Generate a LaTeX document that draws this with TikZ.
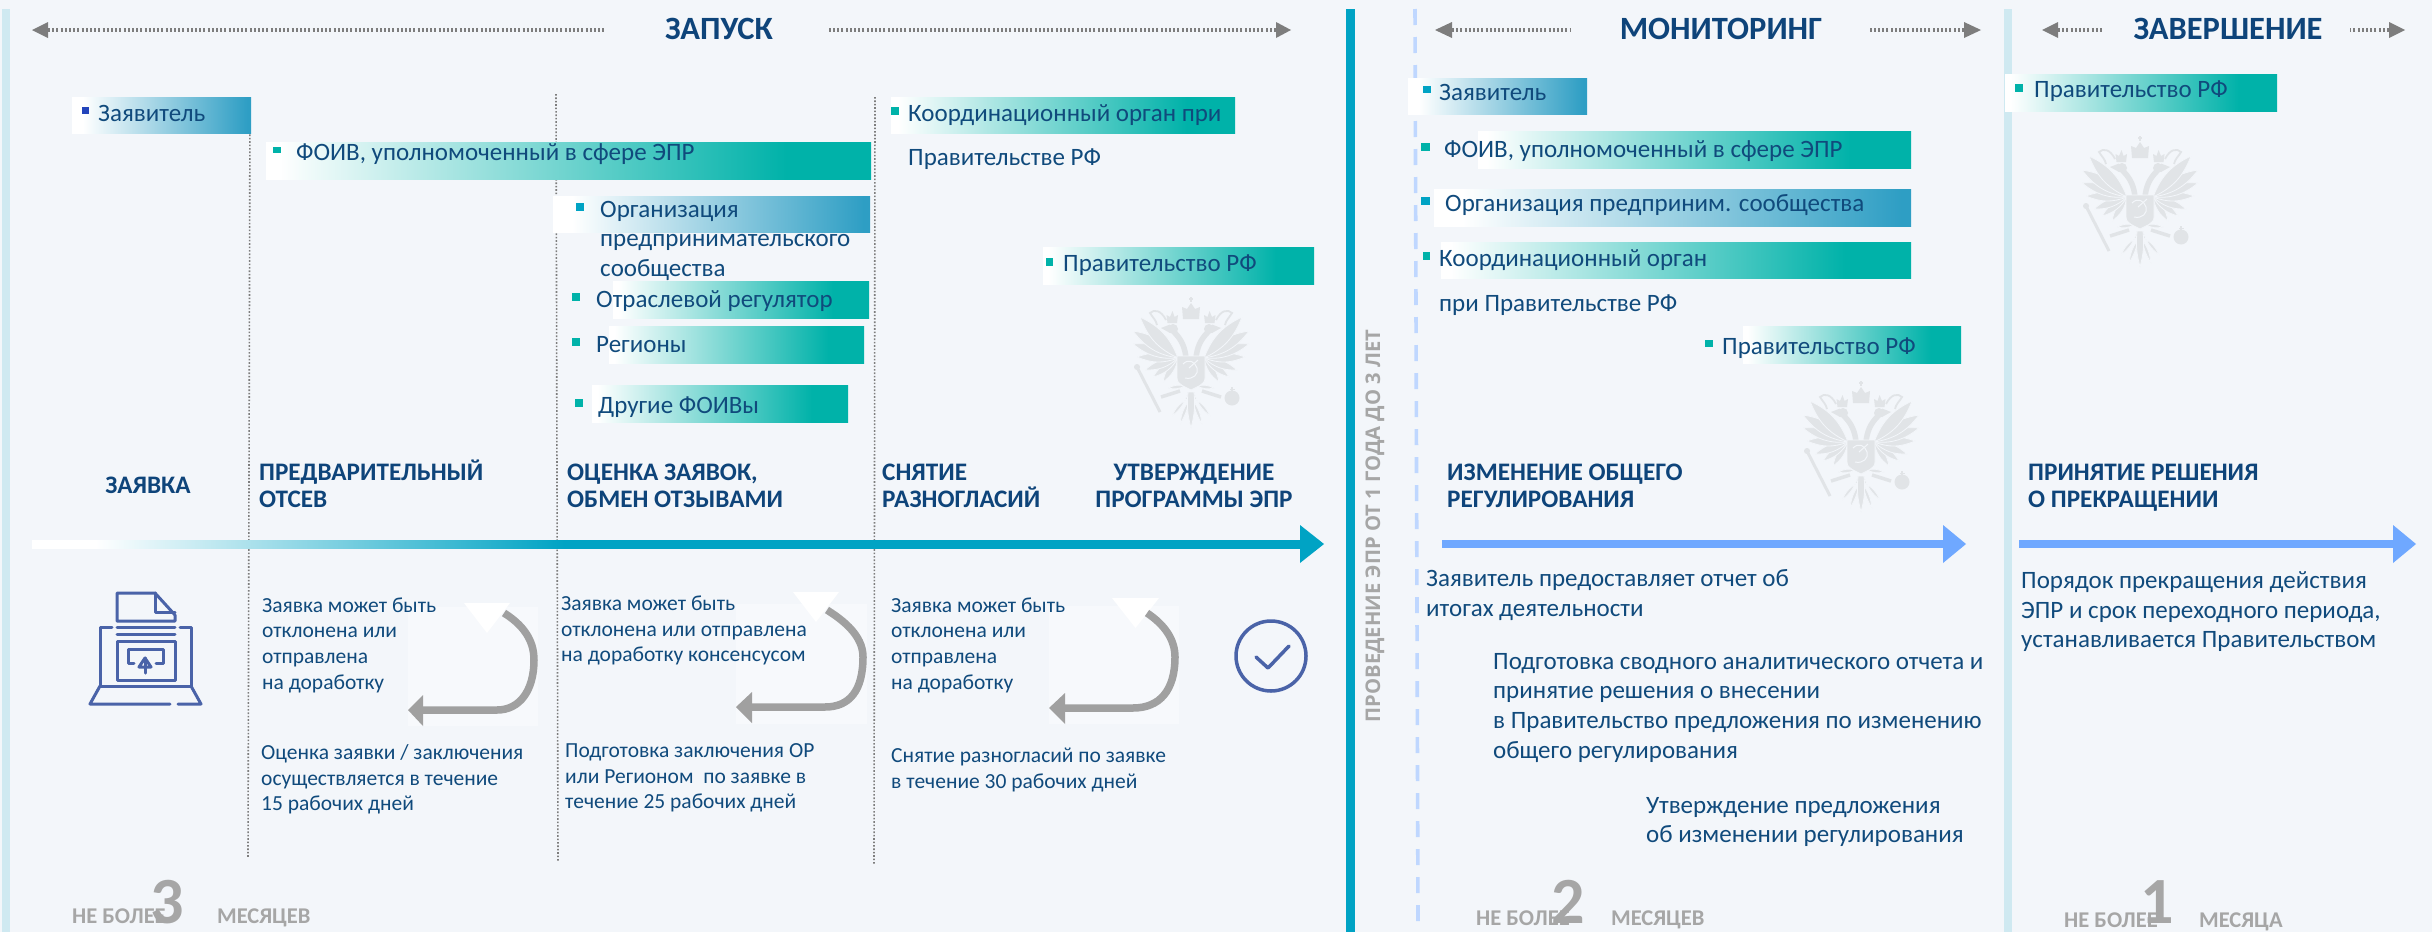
\documentclass[tikz,border=0pt]{standalone}
\usepackage{fontspec}
\setmainfont{Carlito}
\newfontfamily\widefont{Open Sans}
\usetikzlibrary{calc}
\definecolor{bgc}{RGB}{243,246,250}
\definecolor{lightbar}{RGB}{207,233,241}
\definecolor{midbar}{RGB}{0,163,196}
\definecolor{dashblue}{RGB}{191,215,255}
\definecolor{arrowblue}{RGB}{111,168,255}
\definecolor{tealc}{RGB}{0,178,169}
\definecolor{bluec}{RGB}{46,158,196}
\definecolor{bulletdark}{RGB}{34,68,187}
\definecolor{txtc}{RGB}{16,74,124}
\definecolor{hdc}{RGB}{14,68,122}
\definecolor{greytxt}{RGB}{166,166,166}
\definecolor{hdrgrey}{RGB}{125,125,125}
\definecolor{dotgrey}{RGB}{125,125,125}
\definecolor{loopgrey}{RGB}{160,160,160}
\definecolor{iconc}{RGB}{74,99,168}
\definecolor{eaglec}{RGB}{225,228,231}
\definecolor{pale}{RGB}{247,249,252}
\pgfdeclarehorizontalshading{tealfade}{100bp}{color(0bp)=(white); color(26bp)=(white); color(68bp)=(tealc); color(100bp)=(tealc)}
\pgfdeclarehorizontalshading{bluefade}{100bp}{color(0bp)=(white); color(28bp)=(white); color(74bp)=(bluec); color(100bp)=(bluec)}
\pgfdeclarehorizontalshading{mainfade}{100bp}{color(0bp)=(white); color(27.5bp)=(white); color(46bp)=(midbar); color(100bp)=(midbar)}
\tikzset{
  bodytxt/.style={anchor=base west,inner sep=0pt,text=txtc,yshift=-8pt,font=\fontsize{21.5}{24}\selectfont},
  bartxt/.style={anchor=base west,inner sep=0pt,text=txtc,yshift=-8pt,font=\fontsize{25}{26}\selectfont},
  headtxt/.style={anchor=base west,inner sep=0pt,text=hdc,yshift=-8pt,font=\fontsize{25.2}{26}\selectfont\bfseries},
  headmid/.style={anchor=base,inner sep=0pt,text=hdc,yshift=-8pt,font=\fontsize{25.2}{26}\selectfont\bfseries},
  titletxt/.style={anchor=center,inner sep=0pt,text=hdc,font=\fontsize{32.5}{33}\selectfont\bfseries},
  greylbl/.style={anchor=base west,inner sep=0pt,text=greytxt,yshift=-8pt,font=\fontsize{22.5}{23}\selectfont\bfseries},
  bignum/.style={anchor=center,inner sep=0pt,text=greytxt,font=\fontsize{66}{66}\selectfont\bfseries},
  vdots/.style={draw=dotgrey,line width=1.6pt,dash pattern=on 1.6pt off 1.8pt},
  hdots/.style={draw=hdrgrey,line width=4pt,dash pattern=on 2pt off 2.2pt},
  loopline/.style={draw=loopgrey,line width=7.5pt},
  iconline/.style={draw=iconc,line width=3pt,line join=round,line cap=round},
  feather/.style={draw=bgc,line width=0.8pt,fill=eaglec},
}
\newcommand\hdrarrow[4]{% tip x, base x, dots end x, y
  \fill[hdrgrey] (#1,#4) -- (#2,#4-8) -- (#2,#4+8) -- cycle;
  \draw[hdots] (#2,#4) -- (#3,#4);}
\newcommand\gbar[5]{\shade[shading=#1] (#2,#3) rectangle (#4,#5);}
\newcommand\bul[5]{\fill[#1] (#2,#3) rectangle (#4,#5);}
\newcommand\loopback[9]{%
  \fill[pale] (#1,#2) rectangle (#3,#4);
  \fill[white] (#5,#6) -- (#7,#6) -- ($(#5,#6)!0.5!(#7,#6)+(0,#8)$) -- cycle;
  #9}
\newcommand\eaglehalf{%
  % wing
  \foreach \tx/\ty in {28/84,38/79,46/72,54/59,58/46,58/33,51/19}{
    \draw[feather] (13,60) to[bend left=22] (\tx,\ty) to[bend left=22] (13,60);
  }
  % tail
  \draw[feather] (3,94) to[bend right=18] (19,118) to[bend right=22] (1,100);
  \draw[feather] (2,94) to[bend right=16] (11,126) to[bend right=16] (0,100);
  % neck, head, crown, ribbon
  \draw[eaglec,line width=5.5pt] (5,60) .. controls (6,50) and (9,42) .. (17,34);
  \fill[eaglec] (18,31) circle (5);
  \fill[eaglec] (21,26.5) -- (30,30) -- (21,35) -- cycle;
  \fill[eaglec] (14,25) -- (13,17) -- (16.5,19) -- (18.5,13) -- (21,19) -- (24.5,17) -- (23.5,25) -- cycle;
  \draw[eaglec,line width=1.8pt] (25,22) .. controls (30,12) and (37,11) .. (41,15) .. controls (38,20) and (35,22) .. (34,27);
  % leg
  \draw[eaglec,line width=3.5pt] (11,93) -- (30,99);
  \draw[feather] (6,88) to[bend left=20] (23,90) to[bend left=20] (6,88);
}
\newcommand\eagle[2]{%
  \begin{scope}[shift={(#1,#2)}]
    \eaglehalf
    \begin{scope}[xscale=-1]\eaglehalf\end{scope}
    \draw[feather] (-3,94) to[bend right=10] (0,130) to[bend right=10] (3,94) -- cycle;
    \fill[eaglec] (-8,21) -- (-9,9) -- (-4,11) -- (0,5) -- (4,11) -- (9,9) -- (8,21) -- cycle;
    \fill[eaglec] (-0.8,-1) rectangle (0.8,4);
    \fill[eaglec] (-2.2,0.2) rectangle (2.2,1.8);
    \draw[feather] (-14,58) -- (14,58) -- (14,80) .. controls (14,87) and (5,89) .. (0,92) .. controls (-5,89) and (-14,87) .. (-14,80) -- cycle;
    \draw[bgc,line width=1pt] (-8,66) .. controls (-2,60) and (4,64) .. (6,70) .. controls (8,76) and (2,82) .. (-6,80);
    \draw[bgc,line width=1pt] (-2,70) -- (7,62);
    \fill[eaglec] (41,100) circle (7.5);
    \fill[eaglec] (40.2,89) rectangle (41.8,94);
    \fill[eaglec] (38.5,90.5) rectangle (43.5,92);
    \draw[eaglec,line width=3pt] (-53,71) -- (-31,114);
    \fill[eaglec] (-54,69) circle (3);
  \end{scope}}
\begin{document}
\begin{tikzpicture}[x=1pt,y=-1pt]
\useasboundingbox (0,0) rectangle (2432,932);
\fill[bgc] (0,0) rectangle (2432,932);
% column rules
\fill[lightbar] (2,9) rectangle (10,932);
\fill[midbar] (1346,9) rectangle (1355,932);
\fill[lightbar] (2004,9) rectangle (2012,932);
\draw[dashblue,line width=3.6pt,dash pattern=on 16pt off 12pt] (1415,9) -- (1418,922);
\draw[vdots] (250,97) -- (248,858);
\draw[vdots] (556,94) -- (558,862);
\draw[vdots] (875,97) -- (874,865);
% headers
\hdrarrow{32}{48}{604}{30}
\hdrarrow{1291}{1276}{827}{30}
\node[titletxt] (zapusk) at (719,29) {ЗАПУСК};
\hdrarrow{1435}{1452}{1571}{30}
\hdrarrow{1981}{1964}{1870}{30}
\node[titletxt] (monit) at (1721,29) {МОНИТОРИНГ};
\hdrarrow{2042}{2058}{2104}{30}
\hdrarrow{2405}{2389}{2350}{30}
\node[titletxt] (zaversh) at (2228,29) {ЗАВЕРШЕНИЕ};
% eagles
\eagle{1191}{298}
\eagle{1861}{382}
\eagle{2140}{137}
% bars, column 1
\gbar{bluefade}{72}{97}{251}{133}
\bul{bulletdark}{82}{107}{89}{114}
\node[bartxt] (a1) at (98,113) {Заявитель};
\gbar{tealfade}{266}{142}{871}{179}
\bul{tealc}{273}{147}{281}{153}
\node[bartxt] (a2) at (296,152) {ФОИВ, уполномоченный в сфере ЭПР};
\gbar{bluefade}{553}{196}{870}{232}
\bul{midbar}{576}{203}{584}{211}
\node[bartxt] (a3) at (600,209) {Организация};
\node[bartxt] (a3b) at (600,238) {предпринимательского};
\node[bartxt] (a3c) at (600,268) {сообщества};
\gbar{tealfade}{613}{281}{869}{318}
\bul{tealc}{572}{293}{580}{301}
\node[bartxt] (a4) at (596,299) {Отраслевой регулятор};
\gbar{tealfade}{609}{326}{864}{363}
\bul{tealc}{572}{338}{580}{346}
\node[bartxt] (a5) at (596,344) {Регионы};
\gbar{tealfade}{592}{385}{848}{422}
\bul{tealc}{575}{399}{583}{407}
\node[bartxt] (a6) at (598,405) {Другие ФОИВы};
\gbar{tealfade}{891}{97}{1235}{133}
\bul{tealc}{891}{107}{899}{115}
\node[bartxt] (a7) at (908,113) {Координационный орган при};
\node[bartxt] (a7b) at (908,157) {Правительстве РФ};
\gbar{tealfade}{1043}{247}{1314}{284}
\bul{tealc}{1046}{258}{1053}{266}
\node[bartxt] (a8) at (1063,263) {Правительство РФ};
% bars, monitoring
\gbar{bluefade}{1408}{78}{1587}{114}
\bul{midbar}{1423}{86}{1431}{93}
\node[bartxt] (b1) at (1439,92) {Заявитель};
\gbar{tealfade}{1478}{131}{1911}{168}
\bul{tealc}{1421}{143}{1430}{151}
\node[bartxt] (b2) at (1444,149) {ФОИВ, уполномоченный в сфере ЭПР};
\gbar{bluefade}{1434}{189}{1911}{226}
\bul{midbar}{1421}{197}{1430}{205}
\node[bartxt] (b3) at (1445,203) {Организация предприним. сообщества};
\gbar{tealfade}{1441}{242}{1911}{278}
\bul{tealc}{1423}{252}{1430}{260}
\node[bartxt] (b4) at (1439,258) {Координационный орган};
\node[bartxt] (b4b) at (1439,303) {при Правительстве РФ};
\gbar{tealfade}{1743}{326}{1961}{363}
\bul{tealc}{1705}{340}{1713}{347}
\node[bartxt] (b5) at (1722,346) {Правительство РФ};
% bars, end
\gbar{tealfade}{2005}{74}{2277}{111}
\bul{tealc}{2015}{84}{2023}{92}
\node[bartxt] (c1) at (2034,89) {Правительство РФ};
% stage headings
\node[headmid] (h1) at (148,485) {ЗАЯВКА};
\node[headtxt] (h2) at (259,472) {ПРЕДВАРИТЕЛЬНЫЙ};
\node[headtxt] (h2b) at (259,499) {ОТСЕВ};
\node[headtxt] (h3) at (567,472) {ОЦЕНКА ЗАЯВОК,};
\node[headtxt] (h3b) at (567,499) {ОБМЕН ОТЗЫВАМИ};
\node[headtxt] (h4) at (882,472) {СНЯТИЕ};
\node[headtxt] (h4b) at (882,499) {РАЗНОГЛАСИЙ};
\node[headmid] (h5) at (1194,472) {УТВЕРЖДЕНИЕ};
\node[headmid] (h5b) at (1194,499) {ПРОГРАММЫ ЭПР};
\node[headtxt] (h6) at (1447,472) {ИЗМЕНЕНИЕ ОБЩЕГО};
\node[headtxt] (h6b) at (1447,499) {РЕГУЛИРОВАНИЯ};
\node[headtxt] (h7) at (2028,472) {ПРИНЯТИЕ РЕШЕНИЯ};
\node[headtxt] (h7b) at (2028,499) {О ПРЕКРАЩЕНИИ};
% main arrows
\coordinate (m2) at (1324,544);
\shade[shading=mainfade] (32,540) rectangle (1300,548);
\fill[midbar] (m2) -- (1300,525) -- (1300,563) -- cycle;
\fill[arrowblue] (1442,540) rectangle (1943,548);
\fill[arrowblue] (1966,544) -- (1943,525) -- (1943,563) -- cycle;
\fill[arrowblue] (2019,540) rectangle (2393,548);
\fill[arrowblue] (2416,544) -- (2393,525) -- (2393,563) -- cycle;
% rotated label
\node[rotate=90,inner sep=0pt,text=greytxt,font=\fontsize{20.2}{21}\selectfont\widefont\bfseries] (rot) at (1375,526) {ПРОВЕДЕНИЕ ЭПР ОТ 1 ГОДА ДО 3 ЛЕТ};
% loops
\loopback{408}{607}{538}{726}{464}{603}{510}{30}{
  \draw[loopline] (504,613) .. controls (528,628) and (534,645) .. (534,660) .. controls (534,690) and (520,710) .. (497,710) -- (422,710);
  \fill[loopgrey] (408,710) -- (423,695) -- (423,726) -- cycle;}
\loopback{736}{604}{867}{724}{793}{592}{839}{30}{
  \draw[loopline] (827,610) .. controls (851,625) and (863,640) .. (863,657) .. controls (863,690) and (850,707) .. (825,707) -- (750,707);
  \fill[loopgrey] (736,707) -- (752,692) -- (752,723) -- cycle;}
\loopback{1049}{606}{1179}{724}{1112}{598}{1159}{30}{
  \draw[loopline] (1147,613) .. controls (1165,625) and (1175,640) .. (1175,657) .. controls (1175,690) and (1160,708) .. (1133,708) -- (1064,708);
  \fill[loopgrey] (1049,708) -- (1065,693) -- (1065,724) -- cycle;}
% laptop icon
\draw[iconline] (117,621) -- (117,593) -- (155,593) -- (175,615) -- (175,621) -- cycle;
\draw[iconline] (155,593) -- (155,612) -- (175,612);
\draw[iconline] (112,627) -- (100,627) -- (100,686) -- (191,686) -- (191,627) -- (180,627);
\draw[iconline] (117,627) -- (175,627);
\draw[iconline] (117,634) -- (175,634);
\draw[iconline] (117,641) rectangle (175,680);
\draw[iconline] (134,663) -- (128,663) -- (128,649) -- (163,649) -- (163,663) -- (156,663);
\draw[iconline] (145,673) -- (145,658);
\draw[iconline] (139,667) -- (145,658) -- (151,667) -- cycle;
\draw[iconline] (100,686) -- (90,704) -- (170,704);
\draw[iconline] (178,704) -- (201,704) -- (191,686);
% check icon
\node[circle,draw=iconc,line width=3.5pt,minimum size=70pt,inner sep=0pt] (chk) at (1271,656) {};
\draw[iconc,line width=3.5pt,line join=round,line cap=round] (1256,657) -- (1268,668) -- (1289,646);
% body text, column 2
\node[bodytxt] (t1) at (262,604) {Заявка может быть};
\node[bodytxt] (t2) at (262,629) {отклонена или};
\node[bodytxt] (t3) at (262,655) {отправлена};
\node[bodytxt] (t4) at (262,681) {на доработку};
\node[bodytxt] (t5) at (261,751) {Оценка заявки / заключения};
\node[bodytxt] (t6) at (261,777) {осуществляется в течение};
\node[bodytxt] (t7) at (261,802) {15 рабочих дней};
% column 3
\node[bodytxt] (u1) at (561,602) {Заявка может быть};
\node[bodytxt] (u2) at (561,628) {отклонена или отправлена};
\node[bodytxt] (u3) at (561,653) {на доработку консенсусом};
\node[bodytxt] (u4) at (565,749) {Подготовка заключения ОР};
\node[bodytxt] (u5) at (565,775) {или Регионом\ \ по заявке в};
\node[bodytxt] (u6) at (565,800) {течение 25 рабочих дней};
% column 4
\node[bodytxt] (v1) at (891,604) {Заявка может быть};
\node[bodytxt] (v2) at (891,629) {отклонена или};
\node[bodytxt] (v3) at (891,655) {отправлена};
\node[bodytxt] (v4) at (891,681) {на доработку};
\node[bodytxt] (v5) at (891,754) {Снятие разногласий по заявке};
\node[bodytxt] (v6) at (891,780) {в течение 30 рабочих дней};
% monitoring text
\node[bartxt] (w1) at (1426,578) {Заявитель предоставляет отчет об};
\node[bartxt] (w2) at (1426,608) {итогах деятельности};
\node[bartxt] (w3) at (1493,661) {Подготовка сводного аналитического отчета и};
\node[bartxt] (w4) at (1493,690) {принятие решения о внесении};
\node[bartxt] (w5) at (1493,720) {в Правительство предложения по изменению};
\node[bartxt] (w6) at (1493,750) {общего регулирования};
\node[bartxt] (w7) at (1646,805) {Утверждение предложения};
\node[bartxt] (w8) at (1646,834) {об изменении регулирования};
% end text
\node[bartxt] (y1) at (2021,580) {Порядок прекращения действия};
\node[bartxt] (y2) at (2021,610) {ЭПР и срок переходного периода,};
\node[bartxt] (y3) at (2021,639) {устанавливается Правительством};
% duration labels
\node[greylbl] (d1) at (72,915) {НЕ БОЛЕЕ};
\node[bignum] (n1) at (167,902) {3};
\node[greylbl] (e1) at (217,915) {МЕСЯЦЕВ};
\node[greylbl] (d2) at (1476,917) {НЕ БОЛЕЕ};
\node[bignum] (n2) at (1568,902) {2};
\node[greylbl] (e2) at (1611,917) {МЕСЯЦЕВ};
\node[greylbl] (d3) at (2064,919) {НЕ БОЛЕЕ};
\node[bignum] (n3) at (2157,902) {1};
\node[greylbl] (e3) at (2199,919) {МЕСЯЦА};
\end{tikzpicture}
\end{document}
